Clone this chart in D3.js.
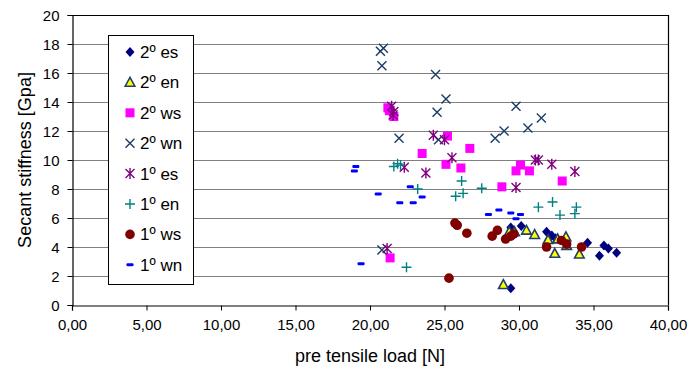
<!DOCTYPE html>
<html>
<head>
<meta charset="utf-8">
<script src="https://cdn.jsdelivr.net/npm/d3@7"></script>
<style>
  body { margin: 0; background: #fff; }
  svg { display: block; font-family: "Liberation Sans", Arial, sans-serif; }
</style>
</head>
<body>
<svg id="chart" width="691" height="371"></svg>
<script>
// data: [pre tensile load, secant stiffness]
const es2 = [[29.45,5.35],[30.15,5.45],[31.85,5.05],[32.2,4.8],[32.45,4.6],[34.6,4.3],[35.4,3.4],[35.7,4.1],[36.0,3.9],[36.55,3.6],[29.45,1.15]];
const en2 = [[29.35,5.05],[29.7,5.05],[30.5,5.15],[31.05,4.85],[31.95,4.5],[32.4,3.55],[32.6,4.55],[33.15,4.7],[33.2,4.1],[34.05,3.5],[28.95,1.4]];
const ws2 = [[21.2,13.6],[21.3,13.4],[21.6,13.0],[25.2,11.65],[23.5,10.45],[25.1,9.7],[26.7,10.8],[26.1,9.45],[30.1,9.65],[29.8,9.25],[30.7,9.25],[28.85,8.15],[32.9,8.55],[21.35,3.25]];
const wn2 = [[20.7,17.5],[20.9,17.7],[20.8,16.5],[24.4,15.9],[25.1,14.2],[24.5,13.3],[21.95,11.5],[24.6,11.4],[29.8,13.7],[31.5,12.9],[30.6,12.2],[29.0,12.0],[28.4,11.5],[20.8,3.8]];
const es1 = [[21.45,13.7],[21.6,13.35],[21.55,13.1],[24.25,11.7],[25.0,11.4],[25.5,10.15],[31.1,10.0],[31.3,10.0],[29.8,8.1],[32.2,9.7],[33.75,9.2],[22.3,9.5],[23.75,9.1],[21.15,3.9]];
const en1 = [[21.6,9.55],[21.85,9.75],[22.05,9.65],[23.2,8.0],[22.45,2.6],[26.15,8.55],[25.75,7.5],[26.25,7.7],[27.5,8.05],[31.3,6.75],[32.25,7.1],[32.75,6.2],[33.75,6.3],[33.85,6.75]];
const ws1 = [[25.7,5.65],[25.85,5.5],[26.5,4.95],[25.3,1.85],[28.2,4.75],[28.55,5.15],[29.1,4.55],[29.45,4.75],[29.65,4.9],[31.85,4.0],[32.85,4.45],[33.2,4.2],[34.2,4.0]];
const wn1 = [[19.05,9.55],[18.95,9.25],[20.55,7.65],[22.7,8.15],[23.5,7.45],[22.0,7.05],[22.9,7.05],[19.4,2.85],[27.95,6.25],[28.65,6.55],[29.45,6.35],[30.1,6.25],[29.8,5.95]];

const seriesNames = ['2º es', '2º en', '2º ws', '2º wn', '1º es', '1º en', '1º ws', '1º wn'];
const xTicks = [0, 5, 10, 15, 20, 25, 30, 35, 40];
const yTicks = [0, 2, 4, 6, 8, 10, 12, 14, 16, 18, 20];

const series = [
  { name: seriesNames[0], data: es2, shape: 'diamond', color: '#000080' },
  { name: seriesNames[1], data: en2, shape: 'triangle', color: '#1f3f6f' },
  { name: seriesNames[2], data: ws2, shape: 'square', color: '#ff00ff' },
  { name: seriesNames[3], data: wn2, shape: 'cross', color: '#1a3d66' },
  { name: seriesNames[4], data: es1, shape: 'star', color: '#800080' },
  { name: seriesNames[5], data: en1, shape: 'plus', color: '#008080' },
  { name: seriesNames[6], data: ws1, shape: 'circle', color: '#800000' },
  { name: seriesNames[7], data: wn1, shape: 'dash', color: '#0000ff' }
];

const plotL = 72, plotR = 668, plotT = 15, plotB = 305;

const svg = d3.select('#chart');

const x = d3.scaleLinear().domain([0, 40]).range([plotL, plotR]);
const y = d3.scaleLinear().domain([0, 20]).range([plotB, plotT]);

const comma = d3.formatLocale({ decimal: ',', thousands: '.', grouping: [3], currency: ['', ''] });

// gridlines
svg.append('g')
  .selectAll('line')
  .data(yTicks.filter(d => d > 0 && d < 20))
  .join('line')
  .attr('x1', plotL).attr('x2', plotR)
  .attr('y1', d => y(d) + 0.5).attr('y2', d => y(d) + 0.5)
  .attr('stroke', '#808080')
  .attr('stroke-width', 1.2);

// plot border top / right
svg.append('path')
  .attr('d', `M${plotL},${plotT + 0.5}H${plotR + 0.5}V${plotB}`)
  .attr('fill', 'none')
  .attr('stroke', '#000')
  .attr('stroke-width', 1.2);

// axes
const xAxis = d3.axisBottom(x)
  .tickValues(xTicks)
  .tickSize(5)
  .tickPadding(9)
  .tickFormat(comma.format('.2f'));
const gx = svg.append('g')
  .attr('transform', `translate(0,${plotB + 0.5})`)
  .call(xAxis);

const yAxis = d3.axisLeft(y)
  .tickValues(yTicks)
  .tickSize(5)
  .tickPadding(8);
const gy = svg.append('g')
  .attr('transform', `translate(${plotL + 0.5},0)`)
  .call(yAxis);

[gx, gy].forEach(g => {
  g.select('.domain').attr('stroke', '#000').attr('stroke-width', 1.2);
  g.selectAll('.tick line').attr('stroke', '#000');
  g.selectAll('.tick text')
    .attr('fill', '#000')
    .attr('font-size', '15px')
    .attr('font-family', '"Liberation Sans", Arial, sans-serif');
});
gy.selectAll('.tick text').attr('dy', '0.35em');

// axis titles
svg.append('text')
  .attr('x', (plotL + plotR) / 2)
  .attr('y', 362)
  .attr('text-anchor', 'middle')
  .attr('font-size', '18px')
  .text('pre tensile load [N]');

svg.append('text')
  .attr('transform', `translate(31,${(plotT + plotB) / 2}) rotate(-90)`)
  .attr('text-anchor', 'middle')
  .attr('font-size', '18px')
  .text('Secant stiffness [Gpa]');

// marker drawing
function drawMarker(g, shape, color) {
  if (shape === 'diamond') {
    g.append('path').attr('d', 'M0,-5L4.5,0L0,5L-4.5,0Z').attr('fill', color);
  } else if (shape === 'triangle') {
    g.append('path').attr('d', 'M0,-5L4.8,3.8L-4.8,3.8Z')
      .attr('fill', '#ffff00').attr('stroke', color).attr('stroke-width', 1.6);
  } else if (shape === 'square') {
    g.append('rect').attr('x', -4.5).attr('y', -4.5).attr('width', 9).attr('height', 9).attr('fill', color);
  } else if (shape === 'cross') {
    g.append('path').attr('d', 'M-4.5,-4.5L4.5,4.5M-4.5,4.5L4.5,-4.5')
      .attr('stroke', color).attr('stroke-width', 1.4).attr('fill', 'none');
  } else if (shape === 'star') {
    g.append('path').attr('d', 'M-4.5,-4.5L4.5,4.5M-4.5,4.5L4.5,-4.5M0,-5.5V5.5')
      .attr('stroke', color).attr('stroke-width', 1.4).attr('fill', 'none');
  } else if (shape === 'plus') {
    g.append('path').attr('d', 'M-5,0H5M0,-5V5')
      .attr('stroke', color).attr('stroke-width', 1.4).attr('fill', 'none');
  } else if (shape === 'circle') {
    g.append('circle').attr('r', 4.8).attr('fill', color);
  } else if (shape === 'dash') {
    g.append('rect').attr('x', -3.5).attr('y', -1.5).attr('width', 7).attr('height', 3)
      .attr('rx', 1).attr('fill', color);
  }
}

// points, later series drawn on top
series.forEach(s => {
  svg.append('g')
    .selectAll('g')
    .data(s.data)
    .join('g')
    .attr('transform', d => `translate(${x(d[0])},${y(d[1])})`)
    .each(function() { drawMarker(d3.select(this), s.shape, s.color); });
});

// legend
const legend = svg.append('g');
legend.append('rect')
  .attr('x', 108.5).attr('y', 35.5)
  .attr('width', 85).attr('height', 249)
  .attr('fill', '#fff')
  .attr('stroke', '#000');

series.forEach((s, i) => {
  const ly = 52 + i * 30.4;
  const g = legend.append('g').attr('transform', `translate(130,${ly})`);
  drawMarker(g, s.shape, s.color);
  legend.append('text')
    .attr('x', 140)
    .attr('y', ly)
    .attr('dy', '0.35em')
    .attr('font-size', '17px')
    .text(s.name);
});
</script>
</body>
</html>
